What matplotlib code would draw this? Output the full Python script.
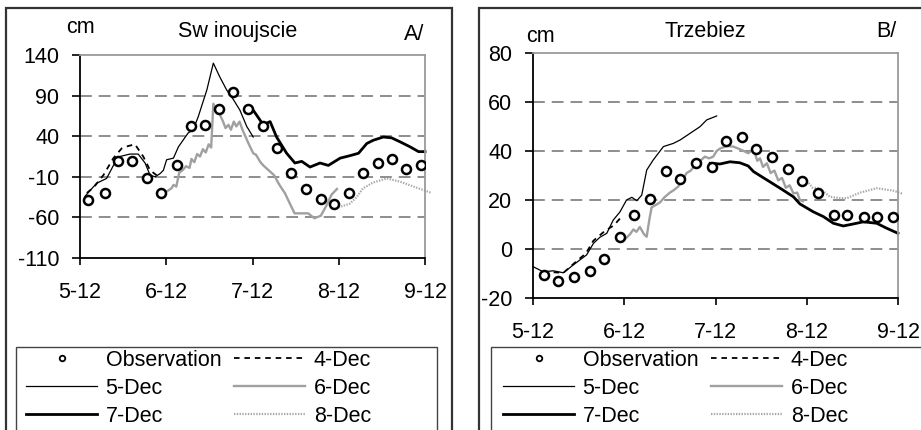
import matplotlib
matplotlib.use("Agg")
import matplotlib.pyplot as plt
from matplotlib.lines import Line2D
from matplotlib.patches import Rectangle

plt.rcParams['font.family'] = ['Liberation Sans', 'DejaVu Sans']
plt.rcParams['lines.scale_dashes'] = False
plt.rcParams['axes.unicode_minus'] = False

# x axis: hours after 5-12
xticks = [0, 24, 48, 72, 96]
xlabels = ['5-12', '6-12', '7-12', '8-12', '9-12']

# ---- A/ Swinoujscie ----
a_obs_h = [2.3, 7.0, 10.7, 14.6, 18.6, 22.4, 26.9, 30.8, 34.7, 38.6, 42.5, 46.8,
           50.8, 54.7, 58.6, 62.9, 67.0, 70.8, 74.8, 78.7, 83.0, 86.9, 90.7, 94.8]
a_obs_v = [-39, -30, 10, 10, -12, -30, 5, 52, 54, 74, 94, 74,
           52, 25, -5, -25, -37, -44, -30, -5, 7, 12, 0, 5]
a_d4_h = [1.9, 4.0, 6.5, 9.3, 11.6, 13.5, 15.3, 17.6, 19.5, 21.3]
a_d4_v = [-30, -22, -8, 13, 25, 28, 30, 15, -2, -8]
a_d5_h = [1.4, 4.6, 7.4, 9.3, 11.1, 13.9, 16.2, 18.1, 19.5, 20.9, 22.3, 23.2, 24.1,
          26.0, 27.4, 30.1, 31.5, 32.9, 35.3, 37.1, 38.9, 40.8, 42.7, 44.5, 46.4, 48.2]
a_d5_v = [-34, -18, -12, 4, 15, 18, 18, 7, -8, -10, -6, -2, 11,
          13, 27, 44, 48, 64, 97, 130, 113, 97, 85, 72, 52, 39]
a_d6_h = [23.2, 24.5, 25.5, 26.0, 26.8, 27.6, 28.5, 29.5, 30.5, 31.0, 31.8, 32.6, 33.4,
          34.2, 35.0, 35.8, 36.5, 37.1, 38.0, 38.9, 39.8, 40.5, 41.3, 42.0, 42.8, 43.5,
          44.4, 45.2, 46.0, 47.0, 48.2, 49.0, 50.2, 51.0, 52.0, 53.0, 54.0, 55.5, 57.0,
          59.7, 63.5, 65.2, 67.0, 68.5, 70.0, 71.5]
a_d6_v = [-30, -27, -24, -20, -22, -5, -2, 3, 1, 12, 8, 18, 15,
          24, 20, 30, 26, 80, 72, 67, 58, 50, 54, 48, 58, 52,
          58, 48, 40, 30, 19, 17, 8, 4, 0, -4, -8, -20, -30,
          -55, -55, -61, -58, -46, -32, -25]
a_d7_h = [46.8, 48.2, 51.0, 52.9, 54.7, 57.5, 59.8, 61.7, 64.0, 66.8, 69.1, 72.4, 75.1,
          77.5, 79.8, 81.6, 84.4, 86.7, 89.1, 91.8, 94.2, 96.0]
a_d7_v = [74, 72, 54, 58, 39, 19, 7, 9, 2, 7, 4, 13, 16,
          19, 31, 35, 39, 38, 33, 27, 21, 21]
a_d8_h = [70.4, 72.4, 75.1, 77.0, 78.8, 81.6, 85.4, 89.1, 92.8, 97.9]
a_d8_v = [-49, -47, -43, -35, -24, -17, -12, -16, -22, -30]

# ---- B/ Trzebiez ----
b_obs_h = [2.9, 6.5, 10.8, 15.0, 18.7, 22.9, 26.6, 30.8, 35.0, 38.7, 42.9, 47.1,
           50.8, 55.0, 58.6, 62.9, 67.1, 70.7, 75.0, 79.2, 82.7, 87.0, 90.6, 94.8]
b_obs_v = [-10.5, -12.9, -11.3, -8.9, -4, 5, 14, 20.5, 32, 28.7, 35.2, 33.6,
           44.2, 45.8, 40.9, 37.7, 32.8, 27.9, 23, 14, 14, 13.2, 13.2, 13.2]
b_d4_h = [2.7, 5.3, 8.0, 11.0, 13.9, 15.9, 18.7, 21.3, 23.7]
b_d4_v = [-9.9, -9.5, -9.7, -5.6, -1.8, 3.4, 7.1, 9.7, 13.9]
b_d5_h = [0, 2.7, 5.3, 8.0, 10.6, 14.1, 15.9, 17.6, 19.4, 21.1, 22.9, 24.6, 26.0, 27.3,
          28.6, 29.9, 31.6, 34.3, 36.9, 38.7, 41.3, 43.9, 45.7, 48.3]
b_d5_v = [-7.2, -9.3, -8.9, -9.7, -6.5, -2.4, 2.3, 4.8, 6.4, 11.8, 15.2, 20, 21.1, 19.7,
          22, 32.2, 36.3, 41.8, 43.1, 44.5, 47.2, 49.9, 52.7, 54.3]
b_d6_h = [24.2, 25.5, 26.4, 27.2, 28.1, 29.2, 29.9, 30.6, 31.2, 32.3, 33.4, 34.5, 36.0,
          37.0, 38.2, 39.3, 40.4, 41.5, 43.0, 44.0, 45.2, 46.3, 47.4, 48.3, 49.2, 50.9,
          52.7, 54.9, 56.6, 58.0, 59.0, 59.7, 60.5, 61.5, 62.5, 63.5, 64.5, 65.5, 66.5,
          67.5, 68.5, 69.5, 70.2, 71.0]
b_d6_v = [4, 6, 8, 7, 9, 6, 5, 12, 17, 18, 19, 21, 23,
          24, 25.5, 28, 31, 32, 35, 36, 37.7, 37, 37.7, 40, 41, 42,
          41.8, 40.4, 39.1, 40.7, 36, 37, 33.5, 35, 31, 32, 28, 29, 25,
          26, 22.7, 23, 20, 19.5]
b_d7_h = [46.6, 49.2, 51.8, 54.4, 56.6, 58.0, 61.5, 65.0, 68.5, 70.2, 73.7, 76.4, 79.0,
          81.6, 84.2, 86.9, 90.4, 93.0, 96.0]
b_d7_v = [35, 34.7, 35.6, 35.2, 33.9, 31.6, 28.2, 24.8, 21.3, 18.4, 15.2, 13.2, 10.5,
          9.4, 10.2, 11.1, 10.5, 8.5, 6.4]
b_d8_h = [70.0, 72.0, 73.5, 75.5, 78.1, 80.5, 82.5, 86.0, 90.4, 94.8, 97.3]
b_d8_v = [29, 28, 25, 24.8, 21.3, 20.8, 20.7, 23, 24.8, 23.8, 22.5]

W, H = 921, 430
fig = plt.figure(figsize=(W / 100, H / 100), dpi=100)


def fx(px):
    return px / W


def fy(py):
    return 1 - py / H


styles = {
    '4-Dec': dict(color='black', lw=1.3, dashes=(4, 3.5)),
    '5-Dec': dict(color='black', lw=0.9),
    '6-Dec': dict(color='#a0a0a0', lw=1.7),
    '7-Dec': dict(color='black', lw=2.0),
    '8-Dec': dict(color='#a8a8a8', lw=1.6, dashes=(1, 1)),
}


def draw_panel(ax, obs, series, ylim, yticks):
    for t in yticks[1:-1]:
        ax.axhline(t, color='#7a7a7a', lw=1.2, dashes=(8.5, 5), zorder=1)
    for name, (h, v) in series.items():
        ax.plot(h, v, clip_on=False, zorder=2, **styles[name])
    ax.plot(obs[0], obs[1], 'o', ms=6.5, mfc='white', mec='black', mew=1.8, zorder=3)
    ax.set_xlim(0, 96)
    ax.set_ylim(*ylim)
    ax.set_yticks(yticks)
    ax.set_xticks(xticks)
    ax.set_xticklabels(xlabels)
    ax.tick_params(axis='y', length=6, width=1.2, pad=9, labelsize=15.5)
    ax.tick_params(axis='x', length=5, width=1.2, pad=12, labelsize=15.5)
    for s in ['top', 'right']:
        ax.spines[s].set_color('#9a9a9a')
        ax.spines[s].set_linewidth(1.3)
    for s in ['left', 'bottom']:
        ax.spines[s].set_linewidth(1.3)


# panel A
axA = fig.add_axes([fx(80), fy(258), fx(425) - fx(80), fy(55) - fy(258)])
draw_panel(axA, (a_obs_h, a_obs_v),
           {'4-Dec': (a_d4_h, a_d4_v), '5-Dec': (a_d5_h, a_d5_v),
            '6-Dec': (a_d6_h, a_d6_v), '7-Dec': (a_d7_h, a_d7_v),
            '8-Dec': (a_d8_h, a_d8_v)},
           (-110, 140), [-110, -60, -10, 40, 90, 140])

# panel B
axB = fig.add_axes([fx(533), fy(298), fx(898) - fx(533), fy(53) - fy(298)])
draw_panel(axB, (b_obs_h, b_obs_v),
           {'4-Dec': (b_d4_h, b_d4_v), '5-Dec': (b_d5_h, b_d5_v),
            '6-Dec': (b_d6_h, b_d6_v), '7-Dec': (b_d7_h, b_d7_v),
            '8-Dec': (b_d8_h, b_d8_v)},
           (-20, 80), [-20, 0, 20, 40, 60, 80])

# titles and labels
fs = 15.5
fig.text(fx(66), fy(33), 'cm', fontsize=fs, va='baseline')
fig.text(fx(238), fy(37), 'Sw inoujscie', fontsize=fs, ha='center', va='baseline')
fig.text(fx(404), fy(40), 'A/', fontsize=fs, va='baseline')
fig.text(fx(526), fy(42), 'cm', fontsize=fs, va='baseline')
fig.text(fx(705), fy(37), 'Trzebiez', fontsize=fs, ha='center', va='baseline')
fig.text(fx(876), fy(37), 'B/', fontsize=fs, va='baseline')

# outer frames
fig.add_artist(Rectangle((fx(6), -0.1), fx(452) - fx(6), fy(8) + 0.1,
                         transform=fig.transFigure, fill=False, ec='#333333', lw=1.6))
fig.add_artist(Rectangle((fx(479), -0.1), 0.6, fy(8) + 0.1,
                         transform=fig.transFigure, fill=False, ec='#333333', lw=1.6))
fig.add_artist(Rectangle((fx(16), -0.1), fx(437) - fx(16), fy(347) + 0.1,
                         transform=fig.transFigure, fill=False, ec='#444444', lw=1.0))
fig.add_artist(Rectangle((fx(491), -0.1), 0.6, fy(347) + 0.1,
                         transform=fig.transFigure, fill=False, ec='#444444', lw=1.0))

# legends
handles = [
    Line2D([], [], ls='none', marker='o', ms=4, mfc='white', mec='black', mew=1.3),
    Line2D([], [], **styles['5-Dec']),
    Line2D([], [], **styles['7-Dec']),
    Line2D([], [], **styles['4-Dec']),
    Line2D([], [], **styles['6-Dec']),
    Line2D([], [], **styles['8-Dec']),
]
labels = ['Observation', '5-Dec', '7-Dec', '4-Dec', '6-Dec', '8-Dec']
for x0 in (26, 503):
    fig.legend(handles, labels, ncol=2, frameon=False, fontsize=15.5,
               loc='upper left', bbox_to_anchor=(fx(x0), fy(350)),
               handlelength=3.3, handletextpad=0.4, columnspacing=0.6,
               labelspacing=0.32, borderpad=0, borderaxespad=0)

fig.savefig('out.png', dpi=100)
